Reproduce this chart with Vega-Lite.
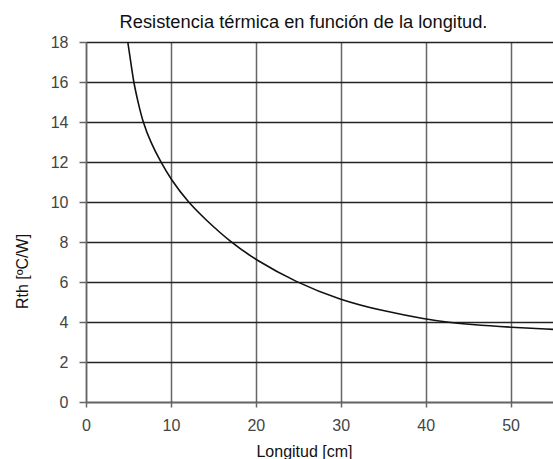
{
  "$schema": "https://vega.github.io/schema/vega-lite/v6.json",
  "autosize": {"type": "none"},
  "padding": {"left": 86, "top": 42, "right": 0, "bottom": 57},
  "width": 467,
  "height": 360,
  "background": "white",
  "config": {
    "font": "Liberation Sans",
    "view": {"stroke": null}
  },
  "title": {
    "text": "Resistencia térmica en función de la longitud.",
    "font": "Liberation Sans",
    "fontSize": 18.3,
    "fontWeight": "normal",
    "color": "#111",
    "anchor": "middle",
    "frame": "group",
    "dx": -16,
    "dy": 25,
    "baseline": "alphabetic",
    "offset": 13
  },
  "data": {
    "values": [
      {"longitud": 4.92, "rth": 18.0},
      {"longitud": 5.24, "rth": 17.1},
      {"longitud": 5.6, "rth": 16.0},
      {"longitud": 6.1, "rth": 15.05},
      {"longitud": 6.69, "rth": 14.0},
      {"longitud": 7.65, "rth": 12.95},
      {"longitud": 8.8, "rth": 12.0},
      {"longitud": 10.0, "rth": 11.13},
      {"longitud": 12.0, "rth": 10.0},
      {"longitud": 14.0, "rth": 9.15},
      {"longitud": 17.0, "rth": 8.0},
      {"longitud": 20.0, "rth": 7.1},
      {"longitud": 24.76, "rth": 5.98},
      {"longitud": 29.94, "rth": 5.1},
      {"longitud": 35.0, "rth": 4.55},
      {"longitud": 40.1, "rth": 4.13},
      {"longitud": 42.8, "rth": 3.98},
      {"longitud": 45.0, "rth": 3.88},
      {"longitud": 50.1, "rth": 3.73},
      {"longitud": 55.0, "rth": 3.63}
    ]
  },
  "mark": {"type": "line", "color": "#111", "strokeWidth": 1.6, "interpolate": "basis", "clip": true},
  "encoding": {
    "x": {
      "field": "longitud",
      "type": "quantitative",
      "scale": {"domain": [0, 55], "nice": false, "zero": true},
      "axis": {
        "values": [0, 10, 20, 30, 40, 50],
        "title": "Longitud [cm]",
        "titleFont": "Liberation Sans",
        "titleFontSize": 16,
        "titleFontWeight": "normal",
        "titleColor": "#111",
        "titleX": 218,
        "titleY": 41,
        "titleAlign": "center",
        "titleBaseline": "top",
        "labelFont": "Liberation Sans",
        "labelFontSize": 16,
        "labelColor": "#444",
        "labelPadding": 10,
        "labelFlush": false,
        "tickSize": 5,
        "tickColor": "#666",
        "tickWidth": 1.5,
        "domainColor": "#666",
        "domainWidth": 1.5,
        "grid": true,
        "gridColor": "#666",
        "gridWidth": 1.5
      }
    },
    "y": {
      "field": "rth",
      "type": "quantitative",
      "scale": {"domain": [0, 18], "nice": false},
      "axis": {
        "values": [0, 2, 4, 6, 8, 10, 12, 14, 16, 18],
        "title": "Rth [ºC/W]",
        "titleFont": "Liberation Sans",
        "titleFontSize": 16,
        "titleFontWeight": "normal",
        "titleColor": "#111",
        "titleX": -59,
        "titleY": 229,
        "titleAngle": -90,
        "titleAlign": "center",
        "titleBaseline": "alphabetic",
        "labelFont": "Liberation Sans",
        "labelFontSize": 16,
        "labelColor": "#444",
        "labelPadding": 11,
        "labelFlush": false,
        "tickSize": 7,
        "tickColor": "#666",
        "tickWidth": 1.5,
        "domainColor": "#666",
        "domainWidth": 1.5,
        "grid": true,
        "gridColor": "#222",
        "gridWidth": 1.3
      }
    }
  }
}
